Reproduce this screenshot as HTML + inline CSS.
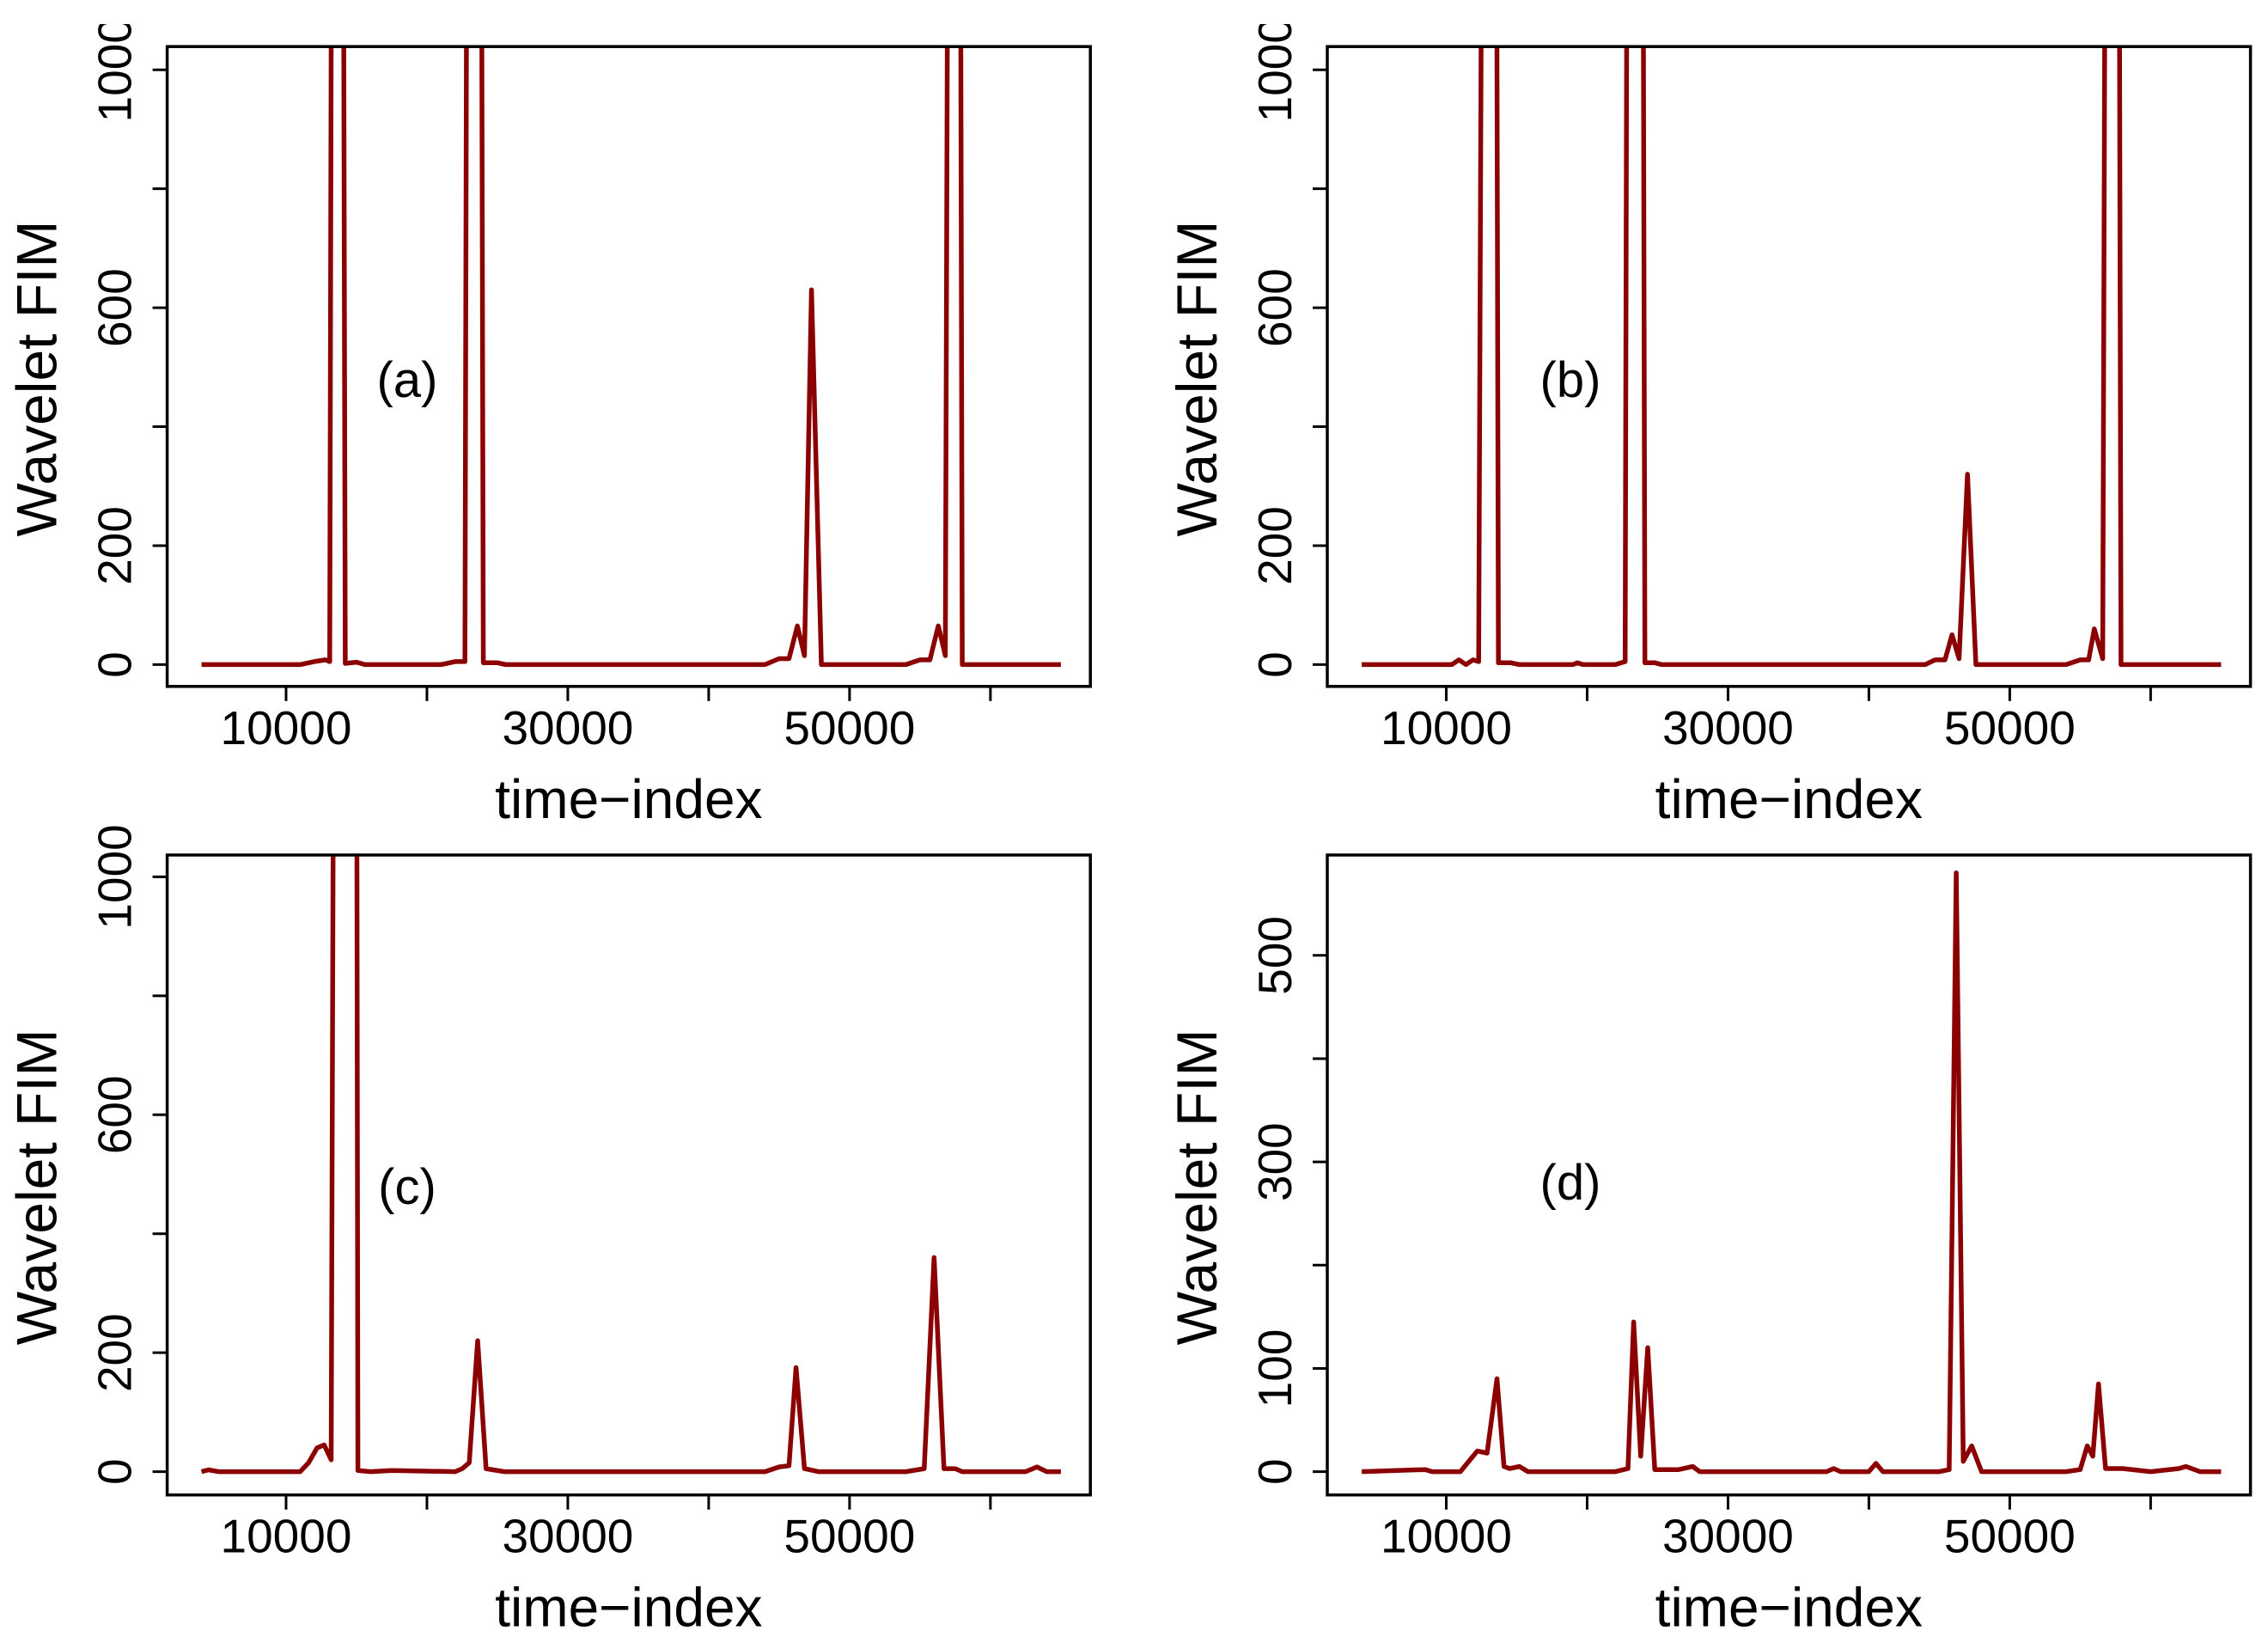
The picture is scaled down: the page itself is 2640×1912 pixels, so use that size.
<!DOCTYPE html>
<html><head><meta charset="utf-8"><style>
html,body{margin:0;padding:0;background:#fff}
svg{display:block}
text{font-family:"Liberation Sans",Arial,sans-serif;fill:#000}
</style></head><body>
<svg id="fig" width="2640" height="1912" viewBox="0 0 2640 1912" xmlns="http://www.w3.org/2000/svg">
<rect width="2640" height="1912" fill="#fff"/>
</svg>
<script>
// ---- data ----
const xA = [4000,11000,12000,12800,13100,13400,13900,14200,15000,15600,21000,22000,22700,23000,23700,24000,25000,25600,44000,45000,45700,46300,46800,47300,48000,54000,55000,55700,56300,56800,57200,57700,58000,65000];
const yA = [0,0,5,8,5,3000,3000,2,4,0,0,5,5,3000,3000,3,3,0,0,10,10,65,15,630,0,0,8,8,65,15,3000,3000,0,0];
const xB = [4000,10400,10900,11400,11900,12300,12800,13000,13400,13700,14600,15200,19000,19300,19700,22000,22700,23000,23800,24100,24800,25300,44000,44700,45400,45900,46400,47000,47600,54000,55000,55600,56000,56600,57000,57600,57900,65000];
const yB = [0,0,8,0,8,5,3000,3000,3000,3,3,0,0,3,0,0,5,3000,3000,3,3,0,0,8,8,50,10,320,0,0,8,8,60,10,3000,3000,0,0];
const xC = [4000,4500,5200,11000,11600,12200,12700,13200,13600,13900,14900,15100,16000,17500,22000,22500,23000,23600,24200,25500,44000,45000,45700,46200,46800,47800,54000,55300,56000,56700,57500,58000,62500,63300,64000,65000];
const yC = [0,3,0,0,15,40,45,20,3000,3000,3000,2,0,2,0,5,15,220,5,0,0,8,10,175,5,0,0,5,360,5,5,0,0,8,0,0];
const xD = [4000,8500,9000,9500,11000,11600,12200,12900,13600,14100,14500,15200,15800,22000,22900,23300,23800,24300,24800,25200,26500,27500,28000,37000,37500,38000,40000,40500,41000,45000,45700,46200,46700,47300,48000,54000,55000,55500,55900,56300,56800,58000,60000,62000,62500,63500,65000];
const yD = [0,2,0,0,0,10,20,18,90,5,3,5,0,0,3,145,15,120,2,2,2,5,0,0,3,0,0,8,0,0,2,580,10,25,0,0,2,25,15,85,3,3,0,3,5,0,0];
const ticksX = [10000,20000,30000,40000,50000,60000];
const labelsX = ["10000","","30000","","50000",""];
const ticksY1000 = [0,200,400,600,800,1000];
const labelsY1000 = ["0","200","","600","","1000"];
const ticksY500 = [0,100,200,300,400,500];
const labelsY500 = ["0","100","","300","","500"];
const panelTags = ["(a)","(b)","(c)","(d)"];

const svg = document.getElementById('fig');
const NS = 'http://www.w3.org/2000/svg';
function mk(tag, attrs, parent){const e=document.createElementNS(NS,tag);for(const k in attrs)e.setAttribute(k,attrs[k]);(parent||svg).appendChild(e);return e;}

const K = 0.016398; // px per time unit
const panels = [
 {id:'a', xs:xA, ys:yA, dx:0, L:194.6, R:1269.2, T:54.2, B:798.8, y0:773.4, py:0.6922, ticks:ticksY1000, labels:labelsY1000, tag:[474,442], clipTop:28},
 {id:'b', xs:xB, ys:yB, dx:1350.5, L:1545, R:2619.6, T:54.2, B:798.8, y0:773.4, py:0.6922, ticks:ticksY1000, labels:labelsY1000, tag:[1828,442], clipTop:28},
 {id:'c', xs:xC, ys:yC, dx:0, L:194.6, R:1269.2, T:995, B:1739.7, y0:1712.6, py:0.6922, ticks:ticksY1000, labels:labelsY1000, tag:[474,1381], clipTop:956},
 {id:'d', xs:xD, ys:yD, dx:1350.5, L:1545, R:2619.6, T:995, B:1739.7, y0:1712.6, py:1.2016, ticks:ticksY500, labels:labelsY500, tag:[1828,1376], clipTop:956}
];
const defs = mk('defs',{});
panels.forEach((p,i)=>{
  const xpx = v => 169 + p.dx + v*K;
  const ypx = v => p.y0 - v*p.py;
  const g = mk('g',{});
  
  
  const cp = mk('clipPath',{id:'clip'+p.id},defs);
  mk('rect',{x:p.L,y:p.T,width:p.R-p.L,height:p.B-p.T},cp);
  const cl = mk('clipPath',{id:'lclip'+p.id},defs);
  mk('rect',{x:0,y:p.clipTop,width:2640,height:1912},cl);
  const d = p.xs.map((x,j)=>(j?'L':'M')+xpx(x).toFixed(1)+','+ypx(p.ys[j]).toFixed(1)).join(' ');
  const line = mk('path',{d:d,fill:'none',stroke:'#8b0000','stroke-width':5.5,'stroke-linejoin':'round','clip-path':'url(#clip'+p.id+')'},g);
  
  
  const box = mk('rect',{x:p.L,y:p.T,width:p.R-p.L,height:p.B-p.T,fill:'none',stroke:'#000','stroke-width':3.5},g);
  
  
  ticksX.forEach((t,j)=>{
    const x = xpx(t);
    mk('line',{x1:x,x2:x,y1:p.B,y2:p.B+17,stroke:'#000','stroke-width':3},g);
    if(labelsX[j]){
      const tx = mk('text',{x:x,y:p.B+67,'font-size':55,'text-anchor':'middle'},g);
      tx.textContent = labelsX[j];
      
      
    }
  });
  const xt = mk('text',{x:(p.L+p.R)/2,y:p.B+153,'font-size':64,'text-anchor':'middle'},g);
  xt.textContent = 'time\u2212index';
  
  
  const yg = mk('g',{'clip-path':'url(#lclip'+p.id+')'},g);
  p.ticks.forEach((t,j)=>{
    const y = ypx(t);
    mk('line',{x1:p.L,x2:p.L-17,y1:y,y2:y,stroke:'#000','stroke-width':3},yg);
    if(p.labels[j]){
      const bx = p.L-42;
      const ty = mk('text',{x:bx,y:y,'font-size':55,'text-anchor':'middle',transform:'rotate(-90 '+bx+' '+y+')'},yg);
      ty.textContent = p.labels[j];
      
      
    }
  });
  const yx = p.L-129, yy = (p.T+p.B)/2+14;
  const yt = mk('text',{x:yx,y:yy,'font-size':66,'text-anchor':'middle',transform:'rotate(-90 '+yx+' '+yy+')'},g);
  yt.textContent = 'Wavelet FIM';
  
  
  const tg = mk('text',{x:p.tag[0],y:p.tag[1]+20,'font-size':58,'text-anchor':'middle'},g);
  tg.textContent = panelTags[i];
  
  
});
</script>
</body></html>
